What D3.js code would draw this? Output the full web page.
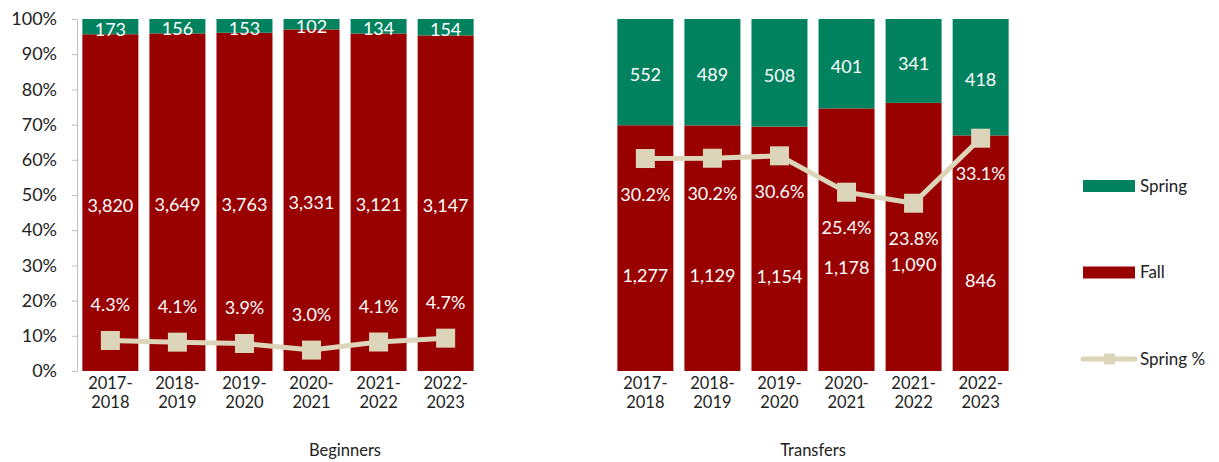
<!DOCTYPE html>
<html>
<head>
<meta charset="utf-8">
<script src="https://cdnjs.cloudflare.com/ajax/libs/d3/7.8.5/d3.min.js"></script>
<style>
  body { margin: 0; background: #fff; }
  svg text { font-family: Lato, "Open Sans", sans-serif; }
  .axis path, .axis line { stroke: #bfbfbf; }
  .axis text { fill: #222; font-size: 18px; }
  .lbl { fill: #fff; font-size: 18px; text-anchor: middle; dominant-baseline: central; }
  .cat { fill: #222; font-size: 16.5px; text-anchor: middle; }
</style>
</head>
<body>
<div id="chart"></div>
<script>
// data
var years = ['2017-2018', '2018-2019', '2019-2020', '2020-2021', '2021-2022', '2022-2023'];
var beginnersFall = [3820, 3649, 3763, 3331, 3121, 3147];
var beginnersSpring = [173, 156, 153, 102, 134, 154];
var transfersFall = [1277, 1129, 1154, 1178, 1090, 846];
var transfersSpring = [552, 489, 508, 401, 341, 418];
var yTicks = [0, 0.1, 0.2, 0.3, 0.4, 0.5, 0.6, 0.7, 0.8, 0.9, 1];
var legendItems = ['Spring', 'Fall', 'Spring %'];

// constants
const W = 1219, H = 462;
const TOP = 19, BOTTOM = 371;
const GREEN = '#00825f', RED = '#990000', BEIGE = '#ddd5b9';

var svg = d3.select('#chart').append('svg')
            .attr('width', W)
            .attr('height', H);

var y = d3.scaleLinear().domain([0, 1]).range([BOTTOM, TOP]);
// spring % is on a hidden secondary axis, 0 - 50%
var y2 = d3.scaleLinear().domain([0, 0.5]).range([BOTTOM, TOP]);

var fmt = d3.format(',');
var pctFmt = d3.format('.1%');

// draw one panel of stacked bars + line
function drawPanel(fall, spring, x0, x1, title, titleX, labelDy, fallDy) {
  var x = d3.scaleBand().domain(years).range([x0, x1]).paddingInner(0.165).paddingOuter(0.08);
  var rows = years.map((yr, i) => {
    var total = fall[i] + spring[i];
    return {year: yr, fall: fall[i], spring: spring[i], fallShare: fall[i] / total, pct: spring[i] / total};
  });

  var g = svg.append('g');

  var bars = g.selectAll('g.bar').data(rows)
              .enter()
              .append('g')
              .classed('bar', true);

  bars.append('rect')
      .attr('x', d => x(d.year))
      .attr('width', x.bandwidth())
      .attr('y', d => y(d.fallShare))
      .attr('height', d => y(0) - y(d.fallShare))
      .attr('fill', RED);

  bars.append('rect')
      .attr('x', d => x(d.year))
      .attr('width', x.bandwidth())
      .attr('y', y(1))
      .attr('height', d => y(d.fallShare) - y(1))
      .attr('fill', GREEN);

  bars.append('text')
      .classed('lbl', true)
      .attr('x', d => x(d.year) + x.bandwidth() / 2)
      .attr('y', d => (y(d.fallShare) + y(1)) / 2 + 2)
      .text(d => fmt(d.spring));

  bars.append('text')
      .classed('lbl', true)
      .attr('x', d => x(d.year) + x.bandwidth() / 2)
      .attr('y', d => (y(d.fallShare) + y(0)) / 2 + fallDy)
      .text(d => fmt(d.fall));

  // spring % line
  var line = d3.line()
               .x(d => x(d.year) + x.bandwidth() / 2)
               .y(d => y2(d.pct));

  g.append('path')
   .datum(rows)
   .attr('d', line)
   .attr('fill', 'none')
   .attr('stroke', BEIGE)
   .attr('stroke-width', 5);

  g.selectAll('rect.marker').data(rows)
   .enter()
   .append('rect')
   .classed('marker', true)
   .attr('x', d => x(d.year) + x.bandwidth() / 2 - 9.5)
   .attr('y', d => y2(d.pct) - 9.5)
   .attr('width', 19)
   .attr('height', 19)
   .attr('fill', BEIGE);

  g.selectAll('text.pct').data(rows)
   .enter()
   .append('text')
   .classed('lbl', true)
   .attr('x', d => x(d.year) + x.bandwidth() / 2)
   .attr('y', d => y2(d.pct) + labelDy)
   .text(d => pctFmt(d.pct));

  // category labels
  var cats = g.selectAll('text.cat').data(years)
              .enter()
              .append('text')
              .classed('cat', true)
              .attr('x', d => x(d) + x.bandwidth() / 2)
              .attr('y', 389);
  cats.append('tspan').text(d => d.split('-')[0] + '-');
  cats.append('tspan')
      .attr('x', d => x(d) + x.bandwidth() / 2)
      .attr('dy', 19)
      .text(d => d.split('-')[1]);

  g.append('text')
   .classed('cat', true)
   .attr('x', titleX)
   .attr('y', 456)
   .text(title);

  return x;
}

drawPanel(beginnersFall, beginnersSpring, 77, 479, 'Beginners', 345, -36, 2);
drawPanel(transfersFall, transfersSpring, 612, 1014, 'Transfers', 813, 35, 27);

// y axis for left panel
svg.append('g')
   .classed('axis', true)
   .attr('transform', 'translate(77,0)')
   .call(d3.axisLeft(y).tickValues(yTicks).tickFormat(d3.format('.0%')).tickSize(5).tickSizeOuter(0).tickPadding(15));

// legend
var legend = svg.selectAll('g.legend').data(legendItems)
                .enter()
                .append('g')
                .classed('legend', true)
                .attr('transform', (d, i) => 'translate(1083,' + (186 + i * 86.5) + ')');

legend.filter((d, i) => i < 2)
      .append('rect')
      .attr('y', -6)
      .attr('width', 52)
      .attr('height', 12)
      .attr('fill', (d, i) => i === 0 ? GREEN : RED);

var lineItem = legend.filter((d, i) => i === 2);
lineItem.append('line')
        .attr('x1', 0).attr('x2', 52)
        .attr('stroke', BEIGE)
        .attr('stroke-width', 5)
        .attr('stroke-linecap', 'round');
lineItem.append('rect')
        .attr('x', 21).attr('y', -5.5)
        .attr('width', 11).attr('height', 11)
        .attr('fill', BEIGE);

legend.append('text')
      .attr('x', 57)
      .attr('dy', '0.35em')
      .attr('font-size', 17)
      .attr('fill', '#222')
      .text(d => d);
</script>
</body>
</html>
